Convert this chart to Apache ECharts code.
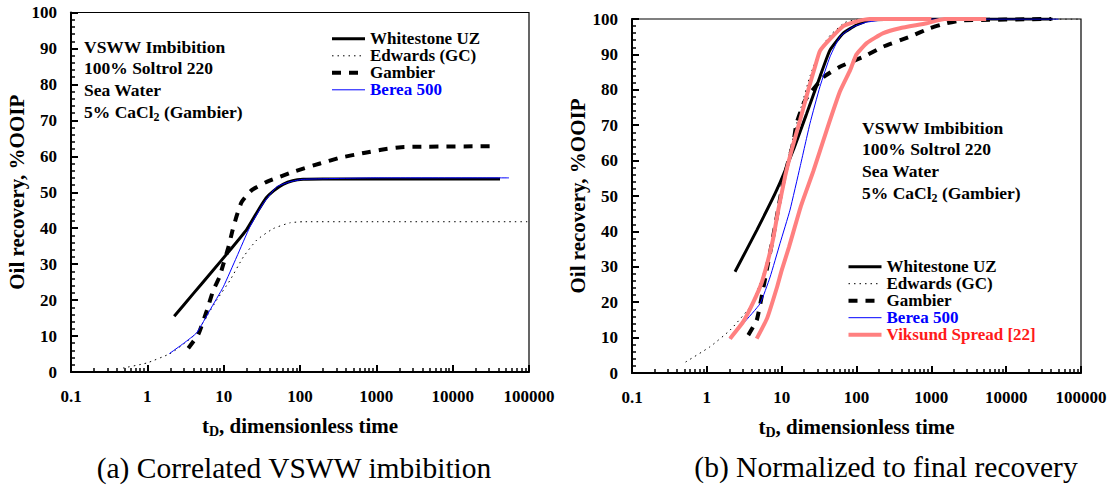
<!DOCTYPE html>
<html>
<head>
<meta charset="utf-8">
<script src="https://cdn.jsdelivr.net/npm/echarts/dist/echarts.min.js"></script>
<style>
html,body{margin:0;padding:0;background:#fff;}
#c{width:1111px;height:487px;}
</style>
</head>
<body>
<div id="c"></div>
<script>
// ---------- tick labels ----------
const X_TICKS = [0.1, 1, 10, 100, 1000, 10000, 100000];
const X_TICK_LABELS = ['0.1', '1', '10', '100', '1000', '10000', '100000'];

// ---------- (a) Correlated VSWW imbibition ----------
const wsA_x = [2.25, 4, 7, 12, 20, 28, 36, 45, 60, 80, 110, 200, 1000, 41700];
const wsA_y = [15.5, 21.8, 27.9, 33.8, 39.6, 44.8, 48.4, 50.4, 52.2, 53.2, 53.6, 53.7, 53.7, 53.7];

const edA_x = [0.48, 0.98, 1.98, 3.0, 4.43, 6.0, 8.1, 12.1, 18.1, 27.1, 44.7, 74, 110, 1000, 100000];
const edA_y = [1.1, 2.5, 5.1, 7.8, 10.9, 15.5, 20, 25.5, 32, 36.7, 39.9, 41.5, 41.8, 41.8, 41.8];

const gaA_x = [3.44, 4.66, 6.0, 7.3, 8.8, 9.9, 11.5, 13.0, 14.8, 17.2, 23.3, 36.6, 81.6, 183, 334, 716, 1220, 2320, 35600];
const gaA_y = [6.6, 10.5, 17, 22.7, 26.4, 30, 34.6, 39.2, 43.4, 47.3, 50.6, 52.9, 55.7, 58, 59.6, 61, 61.9, 62.6, 62.8];

const beA_x = [1.94, 3.0, 4.43, 6.6, 9.9, 14.8, 22.1, 33.1, 49.5, 74, 110, 1000, 54600];
const beA_y = [5.1, 8.0, 10.9, 17.2, 23.7, 32, 40.4, 46.9, 51.5, 52.9, 53.6, 54.0, 54.0];

// ---------- (b) Normalized to final recovery ----------
const wsB_x = [2.38, 4.64, 8.6, 14.3, 21.6, 32.5, 44.2, 66.7, 100, 150, 1000, 41700];
const wsB_y = [28.6, 40.3, 51.7, 63, 73.3, 83.7, 91.2, 96, 98.3, 99.7, 100, 100];

const edB_x = [0.52, 1.1, 2.04, 3.78, 5.5, 7.5, 9.5, 12.9, 17.6, 24, 33, 45, 70, 110, 100000];
const edB_y = [3.1, 7.4, 12.1, 18.7, 27, 38, 49, 63, 74, 84, 91.5, 95.5, 99, 100, 100];

const gaB_x = [3.58, 4.64, 5.4, 6.3, 7.4, 8.6, 10, 11.7, 14.3, 15.8, 20.5, 36, 60, 123, 228, 519, 955, 1600, 2500, 40000];
const gaB_y = [10.7, 14.9, 21.5, 29, 36.6, 44.1, 51.7, 58.2, 64.9, 70.5, 77, 83.5, 86.5, 89.3, 92.2, 95, 97.4, 98.8, 99.6, 100];

const beB_x = [2.04, 3.07, 5.14, 7.0, 9.5, 12.9, 17.6, 23.9, 32.5, 44.2, 60.2, 90.6, 137, 300, 50000];
const beB_y = [9.7, 14, 19.6, 27.1, 36.6, 46, 58.2, 70.5, 80.9, 89.3, 95, 97.8, 99.1, 100, 100];

const vkLo_x = [2.04, 3.07, 4.18, 5.4, 6.6, 7.7, 9.0, 11.1, 13.6, 17.6, 22.7, 27.9, 32.5, 44.2, 66.7, 100, 150, 1000];
const vkLo_y = [9.7, 14.5, 20, 25.5, 32, 38, 46, 55.5, 63, 71.4, 80, 86.5, 91, 94.3, 98, 99.3, 100, 100];

const vkHi_x = [4.64, 6.4, 8.6, 10, 12.5, 18, 26.5, 39.8, 60, 82, 100, 137, 228, 380, 870, 1500, 5400];
const vkHi_y = [9.7, 15.5, 24, 29, 35.5, 47, 57, 68.5, 79.5, 85.5, 90, 93.2, 96, 97.4, 98.8, 100, 100];

// ---------- helpers ----------
const FONT = 'Liberation Serif';
const zip = (xs, ys) => xs.map((x, i) => [x, ys[i]]);

function xLabel(v) {
  const i = X_TICKS.findIndex(t => Math.abs(Math.log10(t) - Math.log10(v)) < 1e-6);
  return i >= 0 ? X_TICK_LABELS[i] : '';
}

const tickFont = { color: '#000', fontFamily: FONT, fontWeight: 'bold', fontSize: 17 };
const majorTick = () => ({ show: true, inside: true, length: 7, lineStyle: { color: '#000', width: 2 } });
const minorTickOpt = (n) => ({ show: true, splitNumber: n, length: 4, lineStyle: { color: '#000', width: 1.5 } });

function mainX(gi) {
  return {
    type: 'log', logBase: 10, gridIndex: gi, min: 0.1, max: 100000, splitNumber: 6,
    position: 'bottom', z: 10,
    axisLine: { show: true, onZero: false, lineStyle: { color: '#000', width: 2 } },
    axisTick: majorTick(),
    minorTick: minorTickOpt(9),
    splitLine: { show: false },
    axisLabel: Object.assign({ margin: 16, formatter: xLabel }, tickFont),
    name: 't{sub|D}, dimensionless time',
    nameLocation: 'middle', nameGap: 42,
    nameTextStyle: {
      color: '#000', fontFamily: FONT, fontWeight: 'bold', fontSize: 21, lineHeight: 24,
      rich: { sub: { color: '#000', fontFamily: FONT, fontWeight: 'bold', fontSize: 14, lineHeight: 14, verticalAlign: 'bottom' } }
    }
  };
}
function yAx(gi, gap) {
  return {
    type: 'value', gridIndex: gi, min: 0, max: 100, interval: 10, z: 10,
    axisLine: { show: true, onZero: false, lineStyle: { color: '#000', width: 2 } },
    axisTick: majorTick(),
    minorTick: minorTickOpt(5),
    splitLine: { show: false },
    axisLabel: Object.assign({ margin: 14 }, tickFont),
    name: 'Oil recovery, %OOIP', nameLocation: 'middle', nameGap: gap,
    nameTextStyle: { color: '#000', fontFamily: FONT, fontWeight: 'bold', fontSize: 21, lineHeight: 21 }
  };
}

function line(name, data, xi, yi, color, width, type, z) {
  return {
    type: 'line', name, data, xAxisIndex: xi, yAxisIndex: yi,
    showSymbol: false, symbol: 'circle', symbolSize: 0, smooth: 0.15,
    clip: true, z: z || 2,
    lineStyle: { color, width, type: type || 'solid' },
    itemStyle: { color },
    emphasis: { disabled: true }
  };
}

const annot = 'VSWW Imbibition\n100% Soltrol 220\nSea Water\n5% CaCl{sub|2} (Gambier)';
const annotStyle = (x, y) => ({
  type: 'text', x, y, silent: true,
  style: {
    text: annot, fill: '#000', fontFamily: FONT, fontWeight: 'bold', fontSize: 17.5, lineHeight: 21.7,
    rich: { sub: { fill: '#000', fontFamily: FONT, fontWeight: 'bold', fontSize: 12, lineHeight: 12, verticalAlign: 'bottom' } }
  }
});

const legendText = { fontFamily: FONT, fontWeight: 'bold', fontSize: 17, lineHeight: 15.6, color: '#000' };
const baseLegendData = [
  { name: 'Whitestone UZ' },
  { name: 'Edwards (GC)' },
  { name: 'Gambier' },
  { name: 'Berea 500', textStyle: { color: '#0000ff' } }
];
const legendCommon = {
  orient: 'vertical', itemWidth: 33, itemHeight: 0.5, itemGap: 0, padding: 0,
  selectedMode: false, textStyle: legendText,
  lineStyle: { width: 'inherit', type: 'inherit', color: 'inherit' },
  itemStyle: { borderWidth: 0 }
};

const option = {
  animation: false,
  grid: [
    { left: 71, top: 12.5, width: 458, height: 359.5, show: true, z: 0, borderColor: '#000', borderWidth: 1.2, backgroundColor: 'rgba(0,0,0,0)' },
    { left: 632, top: 19, width: 449, height: 354, show: true, z: 0, borderColor: '#000', borderWidth: 1.2, backgroundColor: 'rgba(0,0,0,0)' }
  ],
  xAxis: [mainX(0), mainX(1)],
  yAxis: [yAx(0, 41), yAx(1, 38)],
  legend: [
    Object.assign({ left: 330, top: 30.3, data: baseLegendData }, legendCommon),
    Object.assign({ left: 846.5, top: 258.2,
      data: baseLegendData.concat([{ name: 'Viksund Spread [22]', textStyle: { color: '#ff1a1a' } }]) }, legendCommon)
  ],
  series: [
    line('Whitestone UZ', zip(wsA_x, wsA_y), 0, 0, '#000', 3),
    line('Edwards (GC)', zip(edA_x, edA_y), 0, 0, '#000', 1, [1.5, 4]),
    line('Gambier', zip(gaA_x, gaA_y), 0, 0, '#000', 4, [9, 8]),
    line('Berea 500', zip(beA_x, beA_y), 0, 0, '#0000ff', 1),

    line('Whitestone UZ', zip(wsB_x, wsB_y), 1, 1, '#000', 3),
    line('Edwards (GC)', zip(edB_x, edB_y), 1, 1, '#000', 1, [1.5, 4]),
    line('Gambier', zip(gaB_x, gaB_y), 1, 1, '#000', 4, [9, 8]),
    line('Berea 500', zip(beB_x, beB_y), 1, 1, '#0000ff', 1),
    line('Viksund Spread [22]', zip(vkLo_x, vkLo_y), 1, 1, '#ff8080', 4, 'solid', 3),
    line('Viksund Spread [22]', zip(vkHi_x, vkHi_y), 1, 1, '#ff8080', 4, 'solid', 3)
  ],
  graphic: [
    annotStyle(84, 35.8),
    annotStyle(862, 116.8),
    { type: 'text', x: 294, y: 468, silent: true,
      style: { text: '(a) Correlated VSWW imbibition', align: 'center', verticalAlign: 'middle', fontFamily: FONT, fontSize: 29.5, fill: '#000' } },
    { type: 'text', x: 886, y: 467, silent: true,
      style: { text: '(b) Normalized to final recovery', align: 'center', verticalAlign: 'middle', fontFamily: FONT, fontSize: 29.5, fill: '#000' } }
  ]
};

const chart = echarts.init(document.getElementById('c'), null, { renderer: 'svg', width: 1111, height: 487 });
chart.setOption(option);
</script>
</body>
</html>
